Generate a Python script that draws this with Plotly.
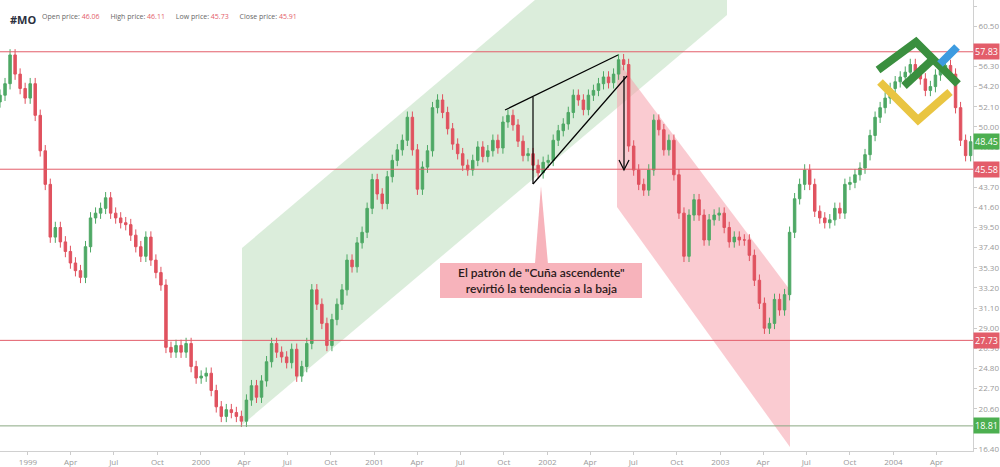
import pandas as pd
import plotly.graph_objects as go

# closing prices, ~10-day candles from Nov 1998 to Jun 2004
closes = [
    53.3, 54.5, 57.5, 55.5, 54.0, 53.0, 54.5, 51.2, 47.5, 44.0,
    38.5, 39.5, 38.0, 37.0, 35.8, 35.0, 34.3, 37.5, 40.5, 41.0,
    41.5, 42.6, 41.0, 40.5, 40.0, 39.8, 38.7, 37.5, 36.5, 38.5,
    36.1, 34.8, 33.5, 27.0, 26.5, 27.2, 26.5, 27.4, 25.0, 23.8,
    24.0, 24.3, 22.5, 20.8, 19.8, 20.5, 20.2, 19.8, 19.3, 21.5,
    23.0, 21.8, 23.5, 25.5, 27.4, 26.5, 26.0, 25.4, 26.8, 24.0,
    25.0, 27.4, 33.0, 31.5, 29.5, 27.2, 29.9, 31.5, 33.0, 36.1,
    35.4, 37.9, 39.0, 41.5, 44.5, 43.0, 42.0, 44.8, 46.5, 47.6,
    48.6, 51.0, 47.6, 43.5, 45.8, 47.5, 52.0, 52.8, 51.5, 49.8,
    48.2, 47.2, 46.0, 45.5, 46.5, 47.9, 46.9, 47.5, 48.6, 47.8,
    50.5, 51.2, 50.2, 48.5, 47.0, 47.2, 46.0, 45.2, 46.3, 46.5,
    48.6, 49.6, 50.3, 51.5, 53.3, 52.8, 51.8, 53.3, 53.8, 54.5,
    55.2, 54.6, 55.5, 57.0, 56.5, 48.0, 45.5, 44.0, 43.4, 45.5,
    50.7, 49.7, 47.6, 48.6, 45.0, 41.0, 36.5, 40.8, 42.4, 40.8,
    38.2, 40.3, 40.8, 41.0, 39.5, 38.0, 38.5, 38.2, 38.2, 36.6,
    34.0, 31.6, 29.0, 29.5, 32.0, 30.9, 32.5, 39.0, 42.5, 44.0,
    45.5, 44.0, 41.2, 40.5, 40.0, 40.3, 41.5, 41.0, 44.0, 44.2,
    45.0, 45.7, 47.1, 49.1, 51.0, 52.0, 53.0, 54.0, 54.7, 55.2,
    55.7, 56.5, 55.8, 55.0, 53.8, 54.2, 55.4, 55.9, 56.4, 55.5,
    52.0, 48.6, 47.0, 48.45,
]
first_open = 52.6
levels_red = [57.83, 45.58, 27.73]
level_green = 18.81
last_price = 48.45

tick_dates = ["1999-01-01", "1999-04-01", "1999-07-01", "1999-10-01",
              "2000-01-01", "2000-04-01", "2000-07-01", "2000-10-01",
              "2001-01-01", "2001-04-01", "2001-07-01", "2001-10-01",
              "2002-01-01", "2002-04-01", "2002-07-01", "2002-10-01",
              "2003-01-01", "2003-04-01", "2003-07-01", "2003-10-01",
              "2004-01-01", "2004-04-01"]
tick_text = ["1999", "Apr", "Jul", "Oct", "2000", "Apr", "Jul", "Oct",
             "2001", "Apr", "Jul", "Oct", "2002", "Apr", "Jul", "Oct",
             "2003", "Apr", "Jul", "Oct", "2004", "Apr"]
y_ticks = [round(16.4 + 2.1 * i, 2) for i in range(23)]

dates = pd.date_range("1998-11-03", "2004-06-12", periods=len(closes))
opens = [first_open] + closes[:-1]
highs = [max(o, c) + 0.6 for o, c in zip(opens, closes)]
lows = [min(o, c) - 0.6 for o, c in zip(opens, closes)]

RED = "#e35d6a"
GREEN = "#4caf50"
W, H = 973.0, 451.0


def px(x, y):
    return f"{x / W:.4f},{1 - y / H:.4f}"


fig = go.Figure(go.Candlestick(
    x=dates, open=opens, high=highs, low=lows, close=closes,
    increasing=dict(line=dict(color="#4ea865", width=1), fillcolor="#4ea865"),
    decreasing=dict(line=dict(color="#e0525f", width=1), fillcolor="#e0525f"),
    showlegend=False, whiskerwidth=0,
))

shapes = []
# channels
shapes.append(dict(type="path", xref="paper", yref="paper", layer="below",
                   path=f"M{px(242,425)} L{px(242,248)} L{px(535,0)} L{px(727,0)} L{px(727,15)} Z",
                   fillcolor="rgba(190,222,190,0.55)", line=dict(width=0)))
shapes.append(dict(type="path", xref="paper", yref="paper", layer="below",
                   path=f"M{px(617,60)} L{px(790,290)} L{px(790,447)} L{px(617,207)} Z",
                   fillcolor="rgba(246,160,172,0.55)", line=dict(width=0)))
for lv in levels_red:
    shapes.append(dict(type="line", xref="paper", x0=0, x1=1, y0=lv, y1=lv,
                       line=dict(color=RED, width=1)))
shapes.append(dict(type="line", xref="paper", x0=0, x1=1, y0=level_green, y1=level_green,
                   line=dict(color="#8aa882", width=1)))
# wedge
for (x0, y0, x1, y1) in [(505, 110, 618, 55), (533, 184, 627, 76), (533, 97, 533, 184),
                         (624, 76, 624, 168)]:
    shapes.append(dict(type="line", xref="paper", yref="paper",
                       x0=x0 / W, y0=1 - y0 / H, x1=x1 / W, y1=1 - y1 / H,
                       line=dict(color="black", width=1.2)))
shapes.append(dict(type="path", xref="paper", yref="paper",
                   path=f"M{px(619,160)} L{px(624,170)} L{px(629,160)}",
                   line=dict(color="black", width=1.2)))
# callout
shapes.append(dict(type="path", xref="paper", yref="paper",
                   path=f"M{px(541,186)} L{px(535,264)} L{px(548,264)} Z",
                   fillcolor="#f7b3bb", line=dict(width=0)))
shapes.append(dict(type="rect", xref="paper", yref="paper",
                   x0=440 / W, x1=642 / W, y0=1 - 298 / H, y1=1 - 263 / H,
                   fillcolor="#f7b3bb", line=dict(width=0)))
# logo
for (pts, col) in [([(878, 70), (916, 42), (958, 84)], "#3a8f3f"),
                   ([(904, 86), (932, 60)], "#3a8f3f"),
                   ([(880, 82), (918, 120), (950, 92)], "#e9c542"),
                   ([(940, 64), (957, 47)], "#3d9be0")]:
    path = "M" + " L".join(px(x, y) for x, y in pts)
    shapes.append(dict(type="path", xref="paper", yref="paper", path=path,
                       line=dict(color=col, width=8)))

annotations = [
    dict(xref="paper", yref="paper", x=541 / W, y=1 - 280 / H, showarrow=False,
         text="El patrón de \"Cuña ascendente\"<br>revirtió la tendencia a la baja",
         font=dict(family="Lato", size=12, color="#2a1a1a", weight=600)),
    dict(xref="paper", yref="paper", x=8 / W, y=1 - 10 / H, xanchor="left", showarrow=False,
         text="<b>#MO</b>", font=dict(family="Open Sans", size=11, color="#2b3040")),
    dict(xref="paper", yref="paper", x=40 / W, y=1 - 10 / H, xanchor="left", showarrow=False,
         text="Open price: <span style='color:#e35d6a'>46.06</span>"
              "      High price: <span style='color:#e35d6a'>46.11</span>"
              "      Low price: <span style='color:#e35d6a'>45.73</span>"
              "      Close price: <span style='color:#e35d6a'>45.91</span>",
         font=dict(family="Open Sans", size=7, color="#666")),
]
for lv, col in [(57.83, RED), (45.58, RED), (27.73, RED), (last_price, GREEN), (level_green, GREEN)]:
    annotations.append(dict(xref="paper", x=1.0, y=lv, xanchor="left", showarrow=False,
                            text=f"{lv:.2f}", bgcolor=col, borderpad=1,
                            font=dict(family="Open Sans", size=9, color="white")))

fig.update_layout(
    width=1000, height=467, margin=dict(l=0, r=27, t=0, b=16),
    paper_bgcolor="white", plot_bgcolor="white",
    shapes=shapes, annotations=annotations,
    xaxis=dict(range=["1998-11-03", "2004-06-17"], rangeslider=dict(visible=False),
               tickvals=tick_dates, ticktext=tick_text, showgrid=False,
               ticks="outside", ticklen=3, tickcolor="#ccc",
               showline=True, linecolor="#d0d0d0",
               tickfont=dict(family="Open Sans", size=8, color="#999")),
    yaxis=dict(side="right", range=[16.19, 63.23], tickvals=y_ticks,
               tickformat=".2f", showgrid=False, ticks="outside", ticklen=3,
               tickcolor="#ccc", showline=True, linecolor="#d0d0d0",
               tickfont=dict(family="Open Sans", size=8, color="#999")),
)
fig.write_html("out.html", config={"displayModeBar": False},
               post_script="document.body.style.margin='0';document.body.style.overflow='hidden';")
